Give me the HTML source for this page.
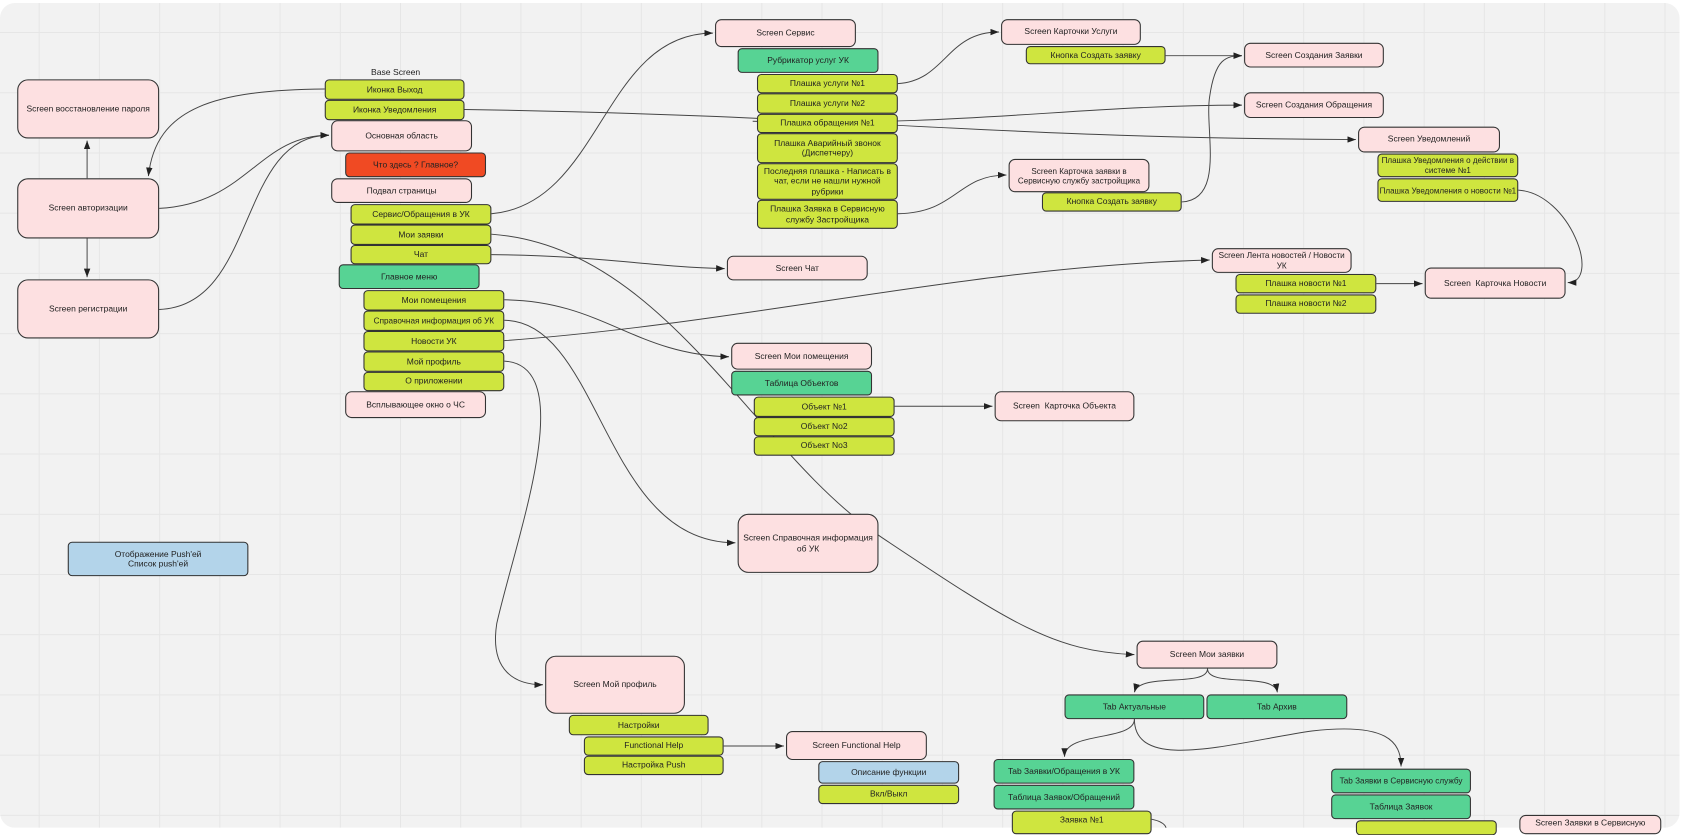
<!DOCTYPE html>
<html><head><meta charset="utf-8"><style>
html,body{margin:0;padding:0;width:1686px;height:828px;overflow:hidden;background:#fff}
#wrap{position:absolute;left:0;top:3px;width:1562px;height:767px;transform:scale(1.07526,1.07532);transform-origin:0 0;
background-color:#f2f2f2;border-radius:14px;
background-image:linear-gradient(#e6e6e6 1px,transparent 1px),linear-gradient(90deg,#e6e6e6 1px,transparent 1px);
background-size:56px 56px;background-position:36px 27px}
#in{position:absolute;left:0;top:-3px;width:1568px;height:770px}
.b{position:absolute;box-sizing:border-box;border:1.3px solid #333;border-radius:4px;display:flex;align-items:center;justify-content:center;text-align:center;font-family:"Liberation Sans","Noto Sans CJK SC",sans-serif;font-size:7.9px;color:#222;line-height:1.2;padding:0 1px;white-space:normal}
.p{background:#fde0e1;border-radius:6px}
.l{background:#cfe53f}
.g{background:#57d394}
.r{background:#f04a23}
.u{background:#b3d4ea}
.lg{border-radius:10px}
svg{position:absolute;left:0;top:0}
.lbl{position:absolute;font-family:"Liberation Sans",sans-serif;font-size:8px;color:#222}
</style></head><body><div id="wrap"><div id="in">
<svg width="1568" height="770" viewBox="0 0 1568 770">
<defs><marker id="a" markerWidth="8" markerHeight="6" refX="8" refY="3" orient="auto" markerUnits="userSpaceOnUse"><path d="M0,0 L8,3 L0,6z" fill="#222"/></marker></defs>
<g fill="none" stroke="#444" stroke-width="0.9" marker-end="url(#a)">
<path d="M302,83 C200,84 145,100 138,164"/>
<path d="M148,194 C230,190 240,126 306,126"/>
<path d="M148,288 C240,285 220,126 306,126"/>
<path d="M81,166 L81,131"/>
<path d="M81,222 L81,258"/>
<path d="M432,102 C800,108 900,128 1261,130"/>
<path d="M700,113 C900,118 1000,98 1155,98"/>
<path d="M457,199 C560,190 560,31 663,31"/>
<path d="M457,218 C620,230 700,420 820,500 S980,606 1055,609"/>
<path d="M457,237 C560,238 600,248 674,250"/>
<path d="M469,279 C560,280 590,330 678,332"/>
<path d="M469,298 C560,300 560,505 684,505"/>
<path d="M469,317 C700,300 900,248 1125,242"/>
<path d="M469,336 C540,340 480,500 462,580 C455,625 480,637 505,637"/>
<path d="M835,78 C880,75 880,30 929,30"/>
<path d="M1084,52 L1155,52"/>
<path d="M1099,188 C1140,186 1120,120 1125,90 C1130,55 1140,52 1155,52"/>
<path d="M835,199 C890,198 890,163 936,163"/>
<path d="M1412,177 C1460,180 1490,263 1458,263"/>
<path d="M1280,264 L1323,264"/>
<path d="M832,378 L923,378"/>
<path d="M673,694 L729,694"/>
<path d="M1123,622 C1123,640 1060,625 1055,644"/>
<path d="M1123,622 C1123,640 1185,625 1188,644"/>
<path d="M1055,669 C1055,690 990,680 990,704"/>
<path d="M1055,669 C1055,720 1150,690 1220,680 C1290,672 1303,690 1303,713"/>
</g>
<path d="M1071,762 C1085,765 1085,770 1085,775" fill="none" stroke="#444" stroke-width="0.9"/>
</svg>
<div class="lbl" style="left:345px;top:63px">Base Screen</div>
<div class="b p lg" style="left:16px;top:74px;width:132px;height:55px">Screen восстановление пароля</div>
<div class="b p lg" style="left:16px;top:166px;width:132px;height:56px">Screen авторизации</div>
<div class="b p lg" style="left:16px;top:260px;width:132px;height:55px">Screen регистрации</div>
<div class="b l" style="left:302px;top:74px;width:130px;height:19px">Иконка Выход</div>
<div class="b l" style="left:302px;top:93px;width:130px;height:19px">Иконка Уведомления</div>
<div class="b p" style="left:308px;top:112px;width:131px;height:29px">Основная область</div>
<div class="b r" style="left:321px;top:142px;width:131px;height:23px">Что здесь ? Главное?</div>
<div class="b p" style="left:308px;top:166px;width:131px;height:23px">Подвал страницы</div>
<div class="b l" style="left:326px;top:190px;width:131px;height:19px">Сервис/Обращения в УК</div>
<div class="b l" style="left:326px;top:209px;width:131px;height:19px">Мои заявки</div>
<div class="b l" style="left:326px;top:228px;width:131px;height:18px">Чат</div>
<div class="b g" style="left:315px;top:246px;width:131px;height:23px">Главное меню</div>
<div class="b l" style="left:338px;top:270px;width:131px;height:19px">Мои помещения</div>
<div class="b l" style="left:338px;top:289px;width:131px;height:19px;font-size:7.6px;white-space:nowrap">Справочная информация об УК</div>
<div class="b l" style="left:338px;top:308px;width:131px;height:19px">Новости УК</div>
<div class="b l" style="left:338px;top:327px;width:131px;height:19px">Мой профиль</div>
<div class="b l" style="left:338px;top:346px;width:131px;height:18px">О приложении</div>
<div class="b p" style="left:321px;top:364px;width:131px;height:25px">Всплывающее окно о ЧС</div>
<div class="b u" style="left:63px;top:504px;width:168px;height:32px">Отображение Push'ей<br>Список push'ей</div>

<div class="b p" style="left:665px;top:18px;width:131px;height:26px">Screen Сервис</div>
<div class="b g" style="left:686px;top:45px;width:131px;height:23px">Рубрикатор услуг УК</div>
<div class="b l" style="left:704px;top:69px;width:131px;height:18px">Плашка услуги №1</div>
<div class="b l" style="left:704px;top:87px;width:131px;height:19px">Плашка услуги №2</div>
<div class="b l" style="left:704px;top:106px;width:131px;height:18px">Плашка обращения №1</div>
<div class="b l" style="left:704px;top:124px;width:131px;height:28px">Плашка Аварийный звонок (Диспетчеру)</div>
<div class="b l" style="left:704px;top:152px;width:131px;height:34px">Последняя плашка - Написать в чат, если не нашли нужной рубрики</div>
<div class="b l" style="left:704px;top:186px;width:131px;height:27px">Плашка Заявка в Сервисную службу Застройщика</div>
<div class="b p" style="left:931px;top:18px;width:130px;height:24px">Screen Карточки Услуги</div>
<div class="b l" style="left:954px;top:43px;width:130px;height:17px">Кнопка Создать заявку</div>
<div class="b p" style="left:1157px;top:40px;width:130px;height:23px">Screen Создания Заявки</div>
<div class="b p" style="left:1157px;top:86px;width:130px;height:24px">Screen Создания Обращения</div>
<div class="b p" style="left:1263px;top:118px;width:132px;height:24px">Screen Уведомлений</div>
<div class="b l" style="left:1281px;top:143px;width:131px;height:22px;font-size:7.5px">Плашка Уведомления о действии в системе №1</div>
<div class="b l" style="left:1281px;top:166px;width:131px;height:22px;font-size:7.5px">Плашка Уведомления о новости №1</div>
<div class="b p" style="left:938px;top:148px;width:131px;height:31px;font-size:7.5px">Screen Карточка заявки в Сервисную службу застройщика</div>
<div class="b l" style="left:969px;top:179px;width:130px;height:18px">Кнопка Создать заявку</div>
<div class="b p" style="left:676px;top:238px;width:131px;height:23px">Screen Чат</div>
<div class="b p" style="left:1127px;top:231px;width:130px;height:23px;font-size:7.6px">Screen Лента новостей / Новости УК</div>
<div class="b l" style="left:1149px;top:255px;width:131px;height:18px">Плашка новости №1</div>
<div class="b l" style="left:1149px;top:274px;width:131px;height:18px">Плашка новости №2</div>
<div class="b p" style="left:1325px;top:249px;width:131px;height:29px">Screen&nbsp; Карточка Новости</div>
<div class="b p" style="left:680px;top:319px;width:131px;height:25px">Screen Мои помещения</div>
<div class="b g" style="left:680px;top:345px;width:131px;height:23px">Таблица Объектов</div>
<div class="b l" style="left:701px;top:369px;width:131px;height:19px">Объект №1</div>
<div class="b l" style="left:701px;top:388px;width:131px;height:18px">Объект No2</div>
<div class="b l" style="left:701px;top:406px;width:131px;height:18px">Объект No3</div>
<div class="b p" style="left:925px;top:364px;width:130px;height:28px">Screen&nbsp; Карточка Объекта</div>
<div class="b p lg" style="left:686px;top:478px;width:131px;height:55px">Screen Справочная информация об УК</div>
<div class="b p lg" style="left:507px;top:610px;width:130px;height:54px">Screen Мой профиль</div>
<div class="b l" style="left:529px;top:665px;width:130px;height:19px">Настройки</div>
<div class="b l" style="left:543px;top:685px;width:130px;height:18px">Functional Help</div>
<div class="b l" style="left:543px;top:703px;width:130px;height:18px">Настройка Push</div>
<div class="b p" style="left:731px;top:680px;width:131px;height:27px">Screen Functional Help</div>
<div class="b u" style="left:761px;top:708px;width:131px;height:21px">Описание функции</div>
<div class="b l" style="left:761px;top:730px;width:131px;height:18px">Вкл/Выкл</div>
<div class="b p" style="left:1057px;top:596px;width:131px;height:26px">Screen Мои заявки</div>
<div class="b g" style="left:990px;top:646px;width:130px;height:23px">Tab Актуальные</div>
<div class="b g" style="left:1122px;top:646px;width:131px;height:23px">Tab Архив</div>
<div class="b g" style="left:924px;top:706px;width:131px;height:23px">Tab Заявки/Обращения в УК</div>
<div class="b g" style="left:924px;top:730px;width:131px;height:23px">Таблица Заявок/Обращений</div>
<div class="b l" style="left:941px;top:754px;width:130px;height:22px;align-items:flex-start;padding-top:3px">Заявка №1</div>
<div class="b g" style="left:1238px;top:715px;width:130px;height:23px;font-size:7.6px;white-space:nowrap">Tab Заявки в Сервисную службу</div>
<div class="b g" style="left:1238px;top:739px;width:130px;height:23px">Таблица Заявок</div>
<div class="b l" style="left:1261px;top:763px;width:131px;height:14px"></div>
<div class="b p" style="left:1413px;top:758px;width:132px;height:18px;align-items:flex-start;padding-top:2px">Screen Заявки в Сервисную</div>
</div></div></body></html>
